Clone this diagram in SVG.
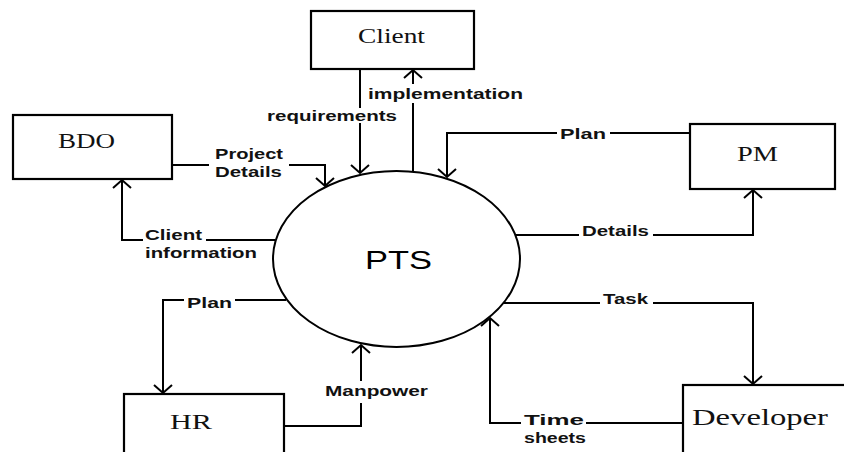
<svg xmlns="http://www.w3.org/2000/svg" width="844" height="452" viewBox="0 0 844 452">
<style>
.box{fill:#fff;stroke:#000;stroke-width:2.2}
.ell{fill:#fff;stroke:#000;stroke-width:2}
.ntxt{font-family:"Liberation Serif","Times New Roman",serif;font-size:21px;fill:#111}
.ptxt{font-family:"Liberation Sans",Arial,sans-serif;font-size:26px;fill:#000}
.con{fill:none;stroke:#000;stroke-width:2;marker-end:url(#ah)}
.lbg{fill:#fff}
.lbl{font-family:"Liberation Sans",Arial,sans-serif;font-size:15px;font-weight:bold;fill:#111}
</style>
<defs>
<marker id="ah" markerUnits="userSpaceOnUse" markerWidth="24" markerHeight="24" viewBox="-12 -12 24 24" refX="0" refY="0" orient="auto">
<path d="M-8,-9 L0,0 L-8,9" fill="none" stroke="#000" stroke-width="2"/>
</marker>
</defs>
<rect width="844" height="452" fill="#fff"/>
<g id="connectors">
<path class="con" d="M360,69 V173"/>
<path class="con" d="M413,171 V70"/>
<path class="con" d="M172,165 H325 V186"/>
<path class="con" d="M275,240 H122 V180"/>
<path class="con" d="M286,300 H163 V393"/>
<path class="con" d="M284,426 H361 V345"/>
<path class="con" d="M690,133 H447 V177"/>
<path class="con" d="M515,235 H753 V190"/>
<path class="con" d="M504,303 H753 V384"/>
<path class="con" d="M683,423 H490 V318"/>
</g>
<g id="labels">
<rect class="lbg" x="265" y="108" width="134" height="15"/>
<text class="lbl" x="267" y="121" textLength="130" lengthAdjust="spacingAndGlyphs">requirements</text>
<rect class="lbg" x="366" y="84" width="159" height="19"/>
<text class="lbl" x="368" y="99" textLength="155" lengthAdjust="spacingAndGlyphs">implementation</text>
<rect class="lbg" x="209" y="147" width="80" height="33"/>
<text class="lbl" x="215" y="159" textLength="68" lengthAdjust="spacingAndGlyphs">Project</text>
<text class="lbl" x="215" y="177" textLength="67" lengthAdjust="spacingAndGlyphs">Details</text>
<rect class="lbg" x="143" y="228" width="63" height="14"/>
<text class="lbl" x="145" y="240" textLength="57" lengthAdjust="spacingAndGlyphs">Client</text>
<text class="lbl" x="145" y="258" textLength="112" lengthAdjust="spacingAndGlyphs">information</text>
<rect class="lbg" x="184" y="294" width="51" height="16"/>
<text class="lbl" x="187" y="308" textLength="45" lengthAdjust="spacingAndGlyphs">Plan</text>
<rect class="lbg" x="322" y="381" width="109" height="22"/>
<text class="lbl" x="325" y="396" textLength="103" lengthAdjust="spacingAndGlyphs">Manpower</text>
<rect class="lbg" x="557" y="126" width="53" height="16"/>
<text class="lbl" x="560" y="139" textLength="46" lengthAdjust="spacingAndGlyphs">Plan</text>
<rect class="lbg" x="579" y="222" width="74" height="16"/>
<text class="lbl" x="582" y="236" textLength="67" lengthAdjust="spacingAndGlyphs">Details</text>
<rect class="lbg" x="600" y="291" width="53" height="16"/>
<text class="lbl" x="603" y="304" textLength="45" lengthAdjust="spacingAndGlyphs">Task</text>
<rect class="lbg" x="521" y="411" width="65" height="16"/>
<text class="lbl" x="524" y="425" textLength="60" lengthAdjust="spacingAndGlyphs">Time</text>
<text class="lbl" x="524" y="443" textLength="62" lengthAdjust="spacingAndGlyphs">sheets</text>
</g>
<g id="PTS">
<ellipse class="ell" cx="396.5" cy="259" rx="123.5" ry="88"/>
<text class="ptxt" x="365" y="269" textLength="67" lengthAdjust="spacingAndGlyphs">PTS</text>
</g>
<g id="Client">
<rect class="box" x="311" y="11" width="163" height="58"/>
<text class="ntxt" x="358" y="43" textLength="67" lengthAdjust="spacingAndGlyphs">Client</text>
</g>
<g id="BDO">
<rect class="box" x="13" y="115" width="159" height="64"/>
<text class="ntxt" x="58" y="148" textLength="57" lengthAdjust="spacingAndGlyphs">BDO</text>
</g>
<g id="PM">
<rect class="box" x="690" y="124" width="145" height="65"/>
<text class="ntxt" x="737" y="161" textLength="41" lengthAdjust="spacingAndGlyphs">PM</text>
</g>
<g id="HR">
<rect class="box" x="124" y="394" width="160" height="80"/>
<text class="ntxt" x="170" y="429" textLength="42" lengthAdjust="spacingAndGlyphs">HR</text>
</g>
<g id="Developer">
<rect class="box" x="683" y="385" width="180" height="90"/>
<text class="ntxt" x="692" y="425" style="font-size:23px" textLength="136" lengthAdjust="spacingAndGlyphs">Developer</text>
</g>
</svg>
